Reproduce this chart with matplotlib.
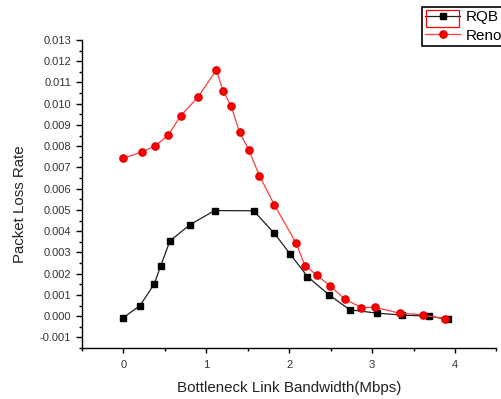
import matplotlib
matplotlib.use("Agg")
import matplotlib.pyplot as plt
from matplotlib.ticker import MultipleLocator, FixedLocator
from matplotlib.patches import Rectangle

plt.rcParams['font.family'] = ['Liberation Sans', 'DejaVu Sans']

rqb_x = [0.0, 0.20, 0.37, 0.45, 0.56, 0.80, 1.10, 1.57, 1.82, 2.01, 2.22, 2.48, 2.73, 3.06, 3.36, 3.69, 3.92]
rqb_y = [-0.00007, 0.0005, 0.0015, 0.00237, 0.00354, 0.0043, 0.00497, 0.00496, 0.0039, 0.00293,
         0.00186, 0.0010, 0.0003, 0.00014, 0.00005, 0.0, -0.00014]

reno_x = [0.0, 0.22, 0.38, 0.54, 0.69, 0.90, 1.12, 1.20, 1.30, 1.40, 1.51, 1.64, 1.82, 2.08, 2.19,
          2.33, 2.49, 2.67, 2.87, 3.03, 3.33, 3.61, 3.88]
reno_y = [0.00744, 0.00772, 0.00801, 0.00852, 0.00943, 0.01032, 0.01158, 0.01062, 0.00988, 0.00867,
          0.00784, 0.00662, 0.00524, 0.00346, 0.00238, 0.00194, 0.00143, 0.0008, 0.0004, 0.00042,
          0.00014, 0.00006, -0.00014]

x_ticks = [0, 1, 2, 3, 4]
y_ticks = [-0.001, 0.000, 0.001, 0.002, 0.003, 0.004, 0.005, 0.006, 0.007, 0.008, 0.009,
           0.010, 0.011, 0.012, 0.013]

W, H = 502, 399
fig = plt.figure(figsize=(W / 100, H / 100), dpi=100)
ax = fig.add_axes([82 / W, (H - 348) / H, (496.5 - 82) / W, (348 - 40) / H])

ax.plot(rqb_x, rqb_y, color='#202020', lw=0.9, marker='s', ms=4.6,
        mfc='black', mec='black', label='RQB', zorder=3)
ax.plot(reno_x, reno_y, color='#ff3c3c', lw=0.9, marker='o', ms=5.2,
        mfc='red', mec='#e00000', label='Reno', zorder=4)

ax.set_xlim(-0.5, 4.5)
ax.set_ylim(-0.0015, 0.013)
ax.xaxis.set_major_locator(FixedLocator(x_ticks))
ax.xaxis.set_minor_locator(MultipleLocator(0.5))
ax.yaxis.set_major_locator(FixedLocator(y_ticks))
ax.yaxis.set_minor_locator(MultipleLocator(0.0005))
ax.set_yticklabels([f"{v:.3f}" for v in y_ticks])
ax.set_xticklabels([str(v) for v in x_ticks])

for s in ['top', 'right']:
    ax.spines[s].set_visible(False)
for s in ['left', 'bottom']:
    ax.spines[s].set_linewidth(1.0)

ax.tick_params(axis='both', which='major', direction='out', length=4.3, width=1,
               labelsize=8, labelcolor='#333333', pad=3.5)
ax.tick_params(axis='both', which='minor', direction='out', length=2.3, width=1)
ax.tick_params(axis='x', which='major', length=3.8, pad=4.5)

ax.set_xlabel('Bottleneck Link Bandwidth(Mbps)', fontsize=10.9, color='#222222', labelpad=8)
ax.set_ylabel('Packet Loss Rate', fontsize=10.8, color='#222222')
ax.yaxis.set_label_coords(-55 / 414.5, (348 - 204) / 308)

leg = fig.legend(loc='upper left', bbox_to_anchor=(422 / W, 1 - 7 / H), fontsize=11,
                 frameon=True, fancybox=False, edgecolor='black', framealpha=1,
                 handlelength=2.3, handletextpad=0.35, borderpad=0.2, labelspacing=0.3,
                 borderaxespad=0)
leg.get_frame().set_linewidth(1.2)

# selection rectangle around first legend sample
fig.patches.append(Rectangle((426 / W, 1 - 27 / H), 33 / W, 17 / H, transform=fig.transFigure,
                             fill=False, edgecolor='red', lw=0.9, zorder=10))

fig.savefig('out.png', dpi=100)
